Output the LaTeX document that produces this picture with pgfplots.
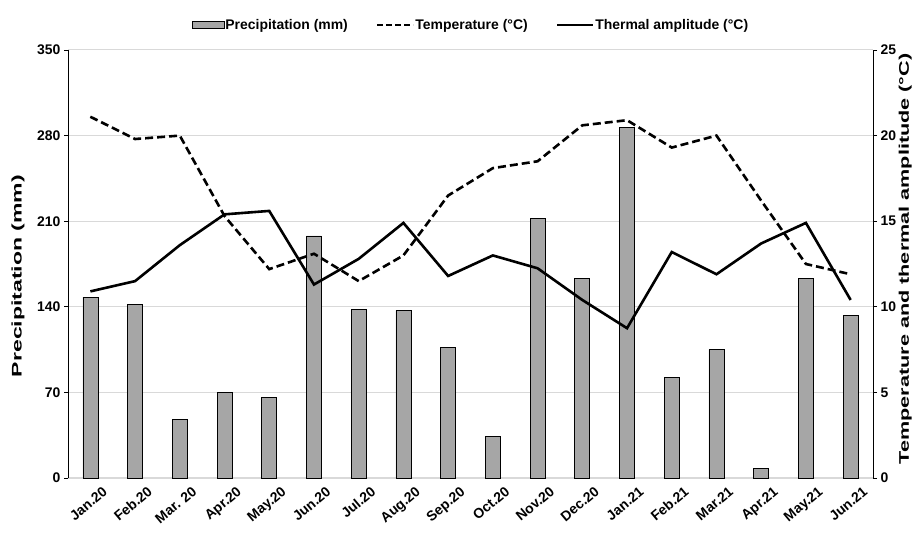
\documentclass[border=0pt]{standalone}
\usepackage{fontspec}
\setmainfont{Liberation Sans}
\newfontfamily\longfontA{Liberation Sans}[FakeStretch=1.65]
\newfontfamily\longfontB{Liberation Sans}[FakeStretch=1.55]
\usepackage{pgfplots}
\pgfplotsset{compat=1.18}

\definecolor{barfill}{HTML}{A6A6A6}
\definecolor{gridgray}{HTML}{D9D9D9}

% monthly precipitation (mm), mean temperature and thermal amplitude (degC)
\pgfplotstableread{
idx prec temp amp
0   148  21.1  10.9
1   142  19.8  11.5
2   48   20.0  13.6
3   70   15.3  15.4
4   66   12.2  15.6
5   198  13.1  11.3
6   138  11.5  12.8
7   137  13.0  14.9
8   107  16.5  11.8
9   34   18.1  13.0
10  212  18.5  12.25
11  163  20.6  10.4
12  287  20.9  8.75
13  82   19.3  13.2
14  105  20.0  11.9
15  8    16.2  13.7
16  163  12.5  14.9
17  133  11.9  10.4
}\climate

\newcommand{\lblfont}{\fontsize{14}{16}\selectfont\bfseries}
\newcommand{\xlblfont}{\fontsize{14}{16}\selectfont\bfseries}

\begin{document}
\begin{tikzpicture}
\pgfplotsset{
  base/.style={
    scale only axis,
    width=805bp, height=428bp,
    xmin=-0.5, xmax=17.5,
    ymin=0,
    /pgf/number format/assume math mode=true,
    tick label style={font=\lblfont},
    tick style={black, line width=0.8bp},
    major tick length=4bp,
    y axis line style={black, line width=0.9bp},
  }
}
\begin{axis}[
  base,
  ymax=350,
  ytick={0,70,140,210,280,350},
  axis y line*=left,
  axis x line*=bottom,
  x axis line style={gridgray, line width=2bp, -},
  ymajorgrids,
  grid style={gridgray, line width=1bp},
  xtick=data,
  xtick style={draw=none},
  xticklabels={Jan.20,Feb.20,Mar. 20,Apr.20,May.20,Jun.20,Jul.20,Aug.20,Sep.20,Oct.20,Nov.20,Dec.20,Jan.21,Feb.21,Mar.21,Apr.21,May.21,Jun.21},
  xticklabel style={font=\xlblfont, rotate=40, anchor=north east, inner sep=0bp, xshift=4bp, yshift=-13bp},
  ytick align=outside, ytick pos=left,
  ylabel={\longfontA\fontsize{14}{16}\selectfont\bfseries Precipitation (mm)},
  ylabel style={at={(axis description cs:-0.062,0.472)}, anchor=center, inner sep=0bp},
]
\addplot[ybar, bar width=15bp, fill=barfill, draw=black, line width=0.7bp]
  table[x=idx, y=prec] {\climate};
\end{axis}

\begin{axis}[
  base,
  ymax=25,
  ytick={0,5,10,15,20,25},
  axis y line*=right,
  axis x line=none,
  ytick align=outside,
  ylabel={\longfontB\fontsize{14}{16}\selectfont\bfseries Temperature and thermal amplitude (°C)},
  ylabel style={at={(axis description cs:1.040,0.512)}, anchor=center, inner sep=0bp},
  legend style={
    at={(rel axis cs:0.5,1)}, anchor=center, yshift=25bp,
    draw=none, fill=none, font=\lblfont,
    legend columns=3,
    nodes={inner sep=1bp},
    /tikz/every even column/.append style={column sep=27bp},
  },
  legend cell align=left,
]
\addlegendimage{legend image code/.code={
  \draw[fill=barfill, draw=black, line width=0.6bp] (0bp,-3.5bp) rectangle (32bp,3.5bp);}}
\addlegendentry{Precipitation (mm)}
\addplot[black, line width=2.6bp, dash pattern=on 8bp off 4bp,
  legend image code/.code={\draw[black, line width=2.6bp, dash pattern=on 6bp off 3bp] (0bp,0bp) -- (36bp,0bp);}]
  table[x=idx, y=temp] {\climate};
\addlegendentry{Temperature (°C)}
\addplot[black, line width=2.6bp,
  legend image code/.code={\draw[black, line width=2.6bp] (0bp,0bp) -- (36bp,0bp);}]
  table[x=idx, y=amp] {\climate};
\addlegendentry{Thermal amplitude (°C)}
\end{axis}

\pgfresetboundingbox
\path (-68bp,-55bp) rectangle (855bp,478bp);
\end{tikzpicture}
\end{document}
